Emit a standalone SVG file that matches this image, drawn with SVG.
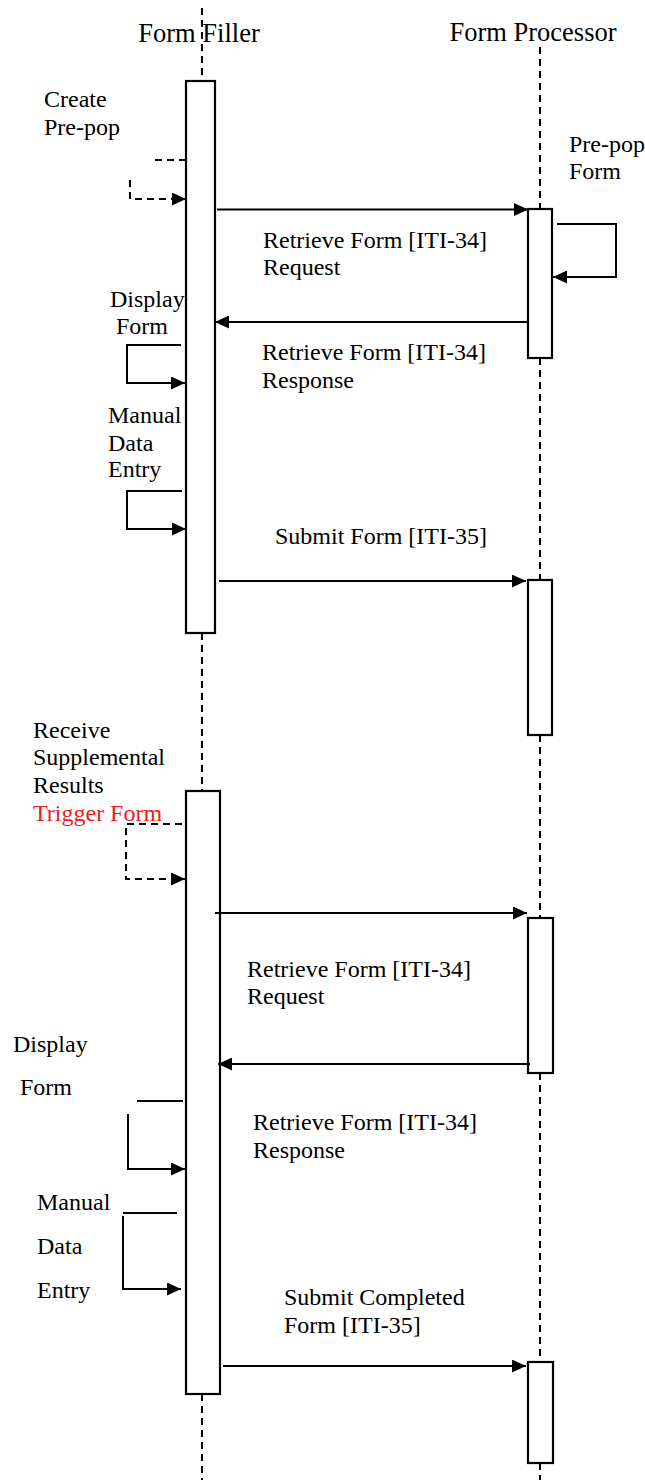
<svg xmlns="http://www.w3.org/2000/svg" width="645" height="1480" viewBox="0 0 645 1480">
<defs>
<marker id="ah" markerUnits="userSpaceOnUse" markerWidth="15" markerHeight="13" refX="14" refY="6.5" orient="auto">
<path d="M0,0 L14,6.5 L0,13 Z" fill="#000"/>
</marker>
<style>
text{font-family:"Liberation Serif","Times New Roman",serif;font-size:24px;fill:#000}
.title{font-size:26.5px}
.red{fill:#ed1c24}
.life{stroke:#000;stroke-width:2;stroke-dasharray:7,5;fill:none}
.act{fill:#fff;stroke:#000;stroke-width:2.2}
.msg{stroke:#000;stroke-width:2;fill:none}
.dmsg{stroke:#000;stroke-width:2;fill:none;stroke-dasharray:7,5}
</style>
</defs>
<rect width="645" height="1480" fill="#fff"/>

<g id="lifeline-filler">
<line class="life" x1="202" y1="8" x2="202" y2="81"/>
<line class="life" x1="202" y1="633" x2="202" y2="791"/>
<line class="life" x1="202" y1="1394" x2="202" y2="1480"/>
<text class="title" x="199" y="42" text-anchor="middle">Form Filler</text>
</g>
<g id="lifeline-processor">
<line class="life" x1="540" y1="47" x2="540" y2="209"/>
<line class="life" x1="540" y1="358" x2="540" y2="580"/>
<line class="life" x1="540" y1="735" x2="540" y2="918"/>
<line class="life" x1="540" y1="1073" x2="540" y2="1362"/>
<line class="life" x1="540" y1="1463" x2="540" y2="1480"/>
<text class="title" x="533" y="41" text-anchor="middle">Form Processor</text>
</g>

<g id="filler-act1"><rect class="act" x="186" y="81" width="29" height="552"/></g>
<g id="filler-act2"><rect class="act" x="186" y="791" width="34" height="603"/></g>
<g id="proc-act1"><rect class="act" x="528" y="209" width="24" height="149"/></g>
<g id="proc-act2"><rect class="act" x="528" y="580" width="24" height="155"/></g>
<g id="proc-act3"><rect class="act" x="528" y="918" width="25" height="155"/></g>
<g id="proc-act4"><rect class="act" x="528" y="1362" width="25" height="101"/></g>

<g id="connectors">
<line class="dmsg" x1="155" y1="160" x2="186" y2="160"/>
<polyline class="dmsg" points="130,180 130,199 186,199" marker-end="url(#ah)"/>
<line class="msg" x1="217" y1="209.5" x2="528" y2="209.5" marker-end="url(#ah)"/>
<polyline class="msg" points="557,224 616,224 616,277 553,277" marker-end="url(#ah)"/>
<line class="msg" x1="528" y1="322" x2="215" y2="322" marker-end="url(#ah)"/>
<polyline class="msg" points="181,345 127,345 127,383 185,383" marker-end="url(#ah)"/>
<polyline class="msg" points="182,491 127,491 127,529 186,529" marker-end="url(#ah)"/>
<line class="msg" x1="219" y1="581" x2="526" y2="581" marker-end="url(#ah)"/>
<polyline class="dmsg" points="182,824 126,824 126,879 185,879" marker-end="url(#ah)"/>
<line class="msg" x1="215" y1="913" x2="527" y2="913" marker-end="url(#ah)"/>
<line class="msg" x1="530" y1="1064" x2="218" y2="1064" marker-end="url(#ah)"/>
<line class="msg" x1="137" y1="1101" x2="183" y2="1101"/>
<polyline class="msg" points="128,1114 128,1169 185,1169" marker-end="url(#ah)"/>
<line class="msg" x1="123" y1="1213" x2="177" y2="1213"/>
<polyline class="msg" points="123,1216 123,1289 181,1289" marker-end="url(#ah)"/>
<line class="msg" x1="223" y1="1366" x2="526" y2="1366" marker-end="url(#ah)"/>
</g>

<g id="labels">
<text x="44" y="107">Create</text>
<text x="44" y="135">Pre-pop</text>
<text x="569" y="152">Pre-pop</text>
<text x="569" y="179">Form</text>
<text x="263" y="248">Retrieve Form [ITI-34]</text>
<text x="263" y="275">Request</text>
<text x="110" y="307">Display</text>
<text x="116" y="334">Form</text>
<text x="262" y="360">Retrieve Form [ITI-34]</text>
<text x="262" y="388">Response</text>
<text x="108" y="423">Manual</text>
<text x="108" y="451">Data</text>
<text x="108" y="477">Entry</text>
<text x="275" y="544">Submit Form [ITI-35]</text>
<text x="33" y="738">Receive</text>
<text x="33" y="765">Supplemental</text>
<text x="33" y="793">Results</text>
<text class="red" x="33" y="821">Trigger Form</text>
<text x="247" y="977">Retrieve Form [ITI-34]</text>
<text x="247" y="1004">Request</text>
<text x="13" y="1052">Display</text>
<text x="20" y="1095">Form</text>
<text x="253" y="1130">Retrieve Form [ITI-34]</text>
<text x="253" y="1158">Response</text>
<text x="37" y="1210">Manual</text>
<text x="37" y="1254">Data</text>
<text x="37" y="1298">Entry</text>
<text x="284" y="1305">Submit Completed</text>
<text x="284" y="1333">Form [ITI-35]</text>
</g>
</svg>
